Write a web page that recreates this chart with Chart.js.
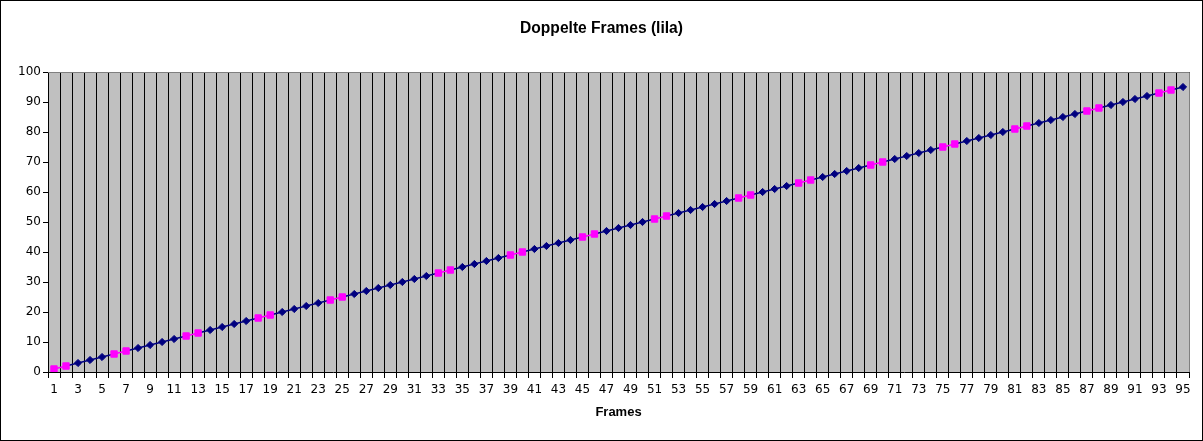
<!DOCTYPE html>
<html>
<head>
<meta charset="utf-8">
<script src="https://cdn.jsdelivr.net/npm/chart.js@4"></script>
<style>
  html, body { margin: 0; padding: 0; background: #fff; }
  #wrap { width: 1203px; height: 441px; position: relative; }
</style>
</head>
<body>
<div id="wrap"><canvas id="chart" width="1203" height="441"></canvas></div>
<script>
// ==================== Data ====================
const chartTitle = 'Doppelte Frames (lila)';
const frames = [
  '1','2','3','4','5','6','7','8','9','10','11','12','13','14','15','16','17','18','19','20',
  '21','22','23','24','25','26','27','28','29','30','31','32','33','34','35','36','37','38','39','40',
  '41','42','43','44','45','46','47','48','49','50','51','52','53','54','55','56','57','58','59','60',
  '61','62','63','64','65','66','67','68','69','70','71','72','73','74','75','76','77','78','79','80',
  '81','82','83','84','85','86','87','88','89','90','91','92','93','94','95'
];
const frameValues = [
  1,2,3,4,5,6,7,8,9,10,11,12,13,14,15,16,17,18,19,20,
  21,22,23,24,25,26,27,28,29,30,31,32,33,34,35,36,37,38,39,40,
  41,42,43,44,45,46,47,48,49,50,51,52,53,54,55,56,57,58,59,60,
  61,62,63,64,65,66,67,68,69,70,71,72,73,74,75,76,77,78,79,80,
  81,82,83,84,85,86,87,88,89,90,91,92,93,94,95
];
// frames shown twice (marked lila)
const doubledFrames = [1,2,6,7,12,13,18,19,24,25,33,34,39,40,45,46,51,52,58,59,63,64,69,70,75,76,81,82,87,88,93,94];
const yTicks = [0,10,20,30,40,50,60,70,80,90,100];

const NAVY = '#000080';
const LILA = '#FF00FF';
const isDoubled = i => doubledFrames.includes(Number(frames[i]));

// ==================== Plugins ====================
const excelLook = {
  id: 'excelLook',
  beforeDraw(chart) {
    const { ctx, chartArea: a } = chart;
    ctx.save();
    ctx.fillStyle = '#fff';
    ctx.fillRect(0, 0, chart.width, chart.height);
    ctx.fillStyle = '#C0C0C0';
    ctx.fillRect(a.left, a.top, a.right - a.left, a.bottom - a.top);
    ctx.restore();
  },
  afterDraw(chart) {
    const { ctx, chartArea: a } = chart;
    ctx.save();
    // plot frame top/right
    ctx.strokeStyle = '#808080';
    ctx.lineWidth = 1;
    ctx.beginPath();
    ctx.moveTo(a.left, a.top + 0.5);
    ctx.lineTo(a.right + 0.5, a.top + 0.5);
    ctx.lineTo(a.right + 0.5, a.bottom);
    ctx.stroke();
    // outer border
    ctx.strokeStyle = '#000';
    ctx.strokeRect(0.5, 0.5, chart.width - 1, chart.height - 1);
    // title, centred on the whole picture
    ctx.fillStyle = '#000';
    ctx.font = 'bold 15.6px "Liberation Sans", Arial, sans-serif';
    ctx.textAlign = 'center';
    ctx.textBaseline = 'middle';
    ctx.fillText(chartTitle, chart.width / 2, 29);
    ctx.restore();
  }
};

// ==================== Chart ====================
new Chart(document.getElementById('chart'), {
  type: 'line',
  data: {
    labels: frames,
    datasets: [{
      data: frameValues,
      borderColor: NAVY,
      borderWidth: 1.5,
      pointStyle: ctx => isDoubled(ctx.dataIndex) ? 'rect' : 'rectRot',
      pointRadius: ctx => isDoubled(ctx.dataIndex) ? 4.5 : 3.6,
      pointBackgroundColor: ctx => isDoubled(ctx.dataIndex) ? LILA : NAVY,
      pointBorderColor: ctx => isDoubled(ctx.dataIndex) ? LILA : NAVY,
      pointBorderWidth: 1,
      segment: {
        borderColor: ctx => (isDoubled(ctx.p0DataIndex) && isDoubled(ctx.p1DataIndex)) ? LILA : NAVY
      },
      tension: 0
    }]
  },
  options: {
    responsive: false,
    animation: false,
    layout: { padding: { left: 0, right: 14, top: 72, bottom: 0 } },
    plugins: {
      legend: { display: false },
      tooltip: { enabled: false },
      title: { display: false }
    },
    scales: {
      x: {
        offset: true,
        grid: {
          offset: true,
          color: ctx => ctx.index === frames.length ? '#808080' : '#000',
          tickColor: '#000',
          lineWidth: 1,
          tickLength: 6,
          drawOnChartArea: true
        },
        border: { color: '#000', width: 1 },
        ticks: {
          autoSkip: false,
          maxRotation: 0,
          padding: 5,
          color: '#000',
          font: { family: 'DejaVu Sans, sans-serif', size: 12 },
          callback: (v, i) => i % 2 === 0 ? frames[i] : ''
        },
        title: {
          display: true,
          text: 'Frames',
          color: '#000',
          font: { family: 'Liberation Sans, Arial, sans-serif', size: 13, weight: 'bold' },
          padding: { top: 0, bottom: 21 }
        },
        afterFit: s => { s.height = 69; }
      },
      y: {
        min: yTicks[0],
        max: yTicks[yTicks.length - 1],
        afterBuildTicks: s => { s.ticks = yTicks.map(v => ({ value: v })); },
        grid: {
          drawOnChartArea: false,
          color: '#000',
          tickLength: 5,
          lineWidth: 1
        },
        border: { color: '#000', width: 1 },
        ticks: {
          padding: 2,
          color: '#000',
          font: { family: 'DejaVu Sans, sans-serif', size: 12 }
        },
        afterFit: s => { s.width = 48; }
      }
    }
  },
  plugins: [excelLook]
});
</script>
</body>
</html>
